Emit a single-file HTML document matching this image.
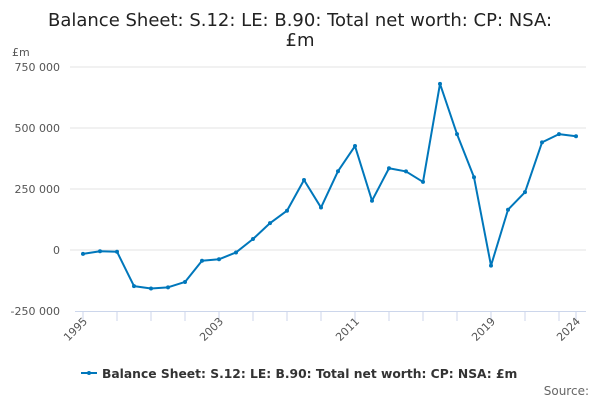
<!DOCTYPE html>
<html><head><meta charset="utf-8"><style>
body{margin:0;background:#fff;width:600px;height:400px;overflow:hidden;font-family:"DejaVu Sans","Liberation Sans",sans-serif}
</style></head><body>
<svg width="600" height="400" id="chart" style="font-family:'DejaVu Sans','Liberation Sans',sans-serif">
<text x="300" y="26" text-anchor="middle" font-size="18" fill="#222">Balance Sheet: S.12: LE: B.90: Total net worth: CP: NSA:</text>
<text x="300" y="46" text-anchor="middle" font-size="18" fill="#222">£m</text>
<text x="12" y="56" font-size="11" fill="#555">£m</text>
<g id="grid"></g><g id="axes"></g><g id="series"></g>
<g>
<line x1="81" y1="373" x2="97" y2="373" stroke="#0077bb" stroke-width="2"/>
<circle cx="89" cy="373" r="2" fill="#0077bb"/>
<text x="102" y="378" font-size="12.3" font-weight="bold" fill="#333">Balance Sheet: S.12: LE: B.90: Total net worth: CP: NSA: £m</text>
</g>
<text x="589" y="395" text-anchor="end" font-size="12" fill="#666">Source:</text>
</svg>
<script>
const years=[1995,1996,1997,1998,1999,2000,2001,2002,2003,2004,2005,2006,2007,2008,2009,2010,2011,2012,2013,2014,2015,2016,2017,2018,2019,2020,2021,2022,2023,2024];
const values=[-16000,-5000,-7000,-148000,-158000,-153000,-131000,-44000,-38000,-10000,45000,110000,161000,287000,174000,323000,426000,202000,335000,322000,279000,681000,475000,298000,-64000,165000,237000,441000,475000,466000];
const yTicks=[-250000,0,250000,500000,750000];
const yTickLabels=["-250 000","0","250 000","500 000","750 000"];
const xLabels=[1995,2003,2011,2019,2024];
const NS="http://www.w3.org/2000/svg";
function X(y){return 83+(y-1995)*(576-83)/29;}
function Y(v){return 250-v*(61/250000);}
function mk(t,a,p){const e=document.createElementNS(NS,t);for(const k in a)e.setAttribute(k,a[k]);p.appendChild(e);return e;}
const grid=document.getElementById('grid'),axes=document.getElementById('axes'),ser=document.getElementById('series');
yTicks.forEach((t,i)=>{
 if(t!==-250000){const l=mk('line',{x1:70,x2:586,y1:Y(t),y2:Y(t),stroke:'#e3e3e3','stroke-width':1},grid);
 
 }
 const tx=mk('text',{x:60,y:Y(t)+4,'text-anchor':'end','font-size':11,fill:'#555'},axes);tx.textContent=yTickLabels[i];
 
 
});
const ax=mk('line',{x1:75,x2:586,y1:311.5,y2:311.5,stroke:'#ccd6eb','stroke-width':1},axes);


const tks=[];for(let y=1995;y<=2023;y+=2)tks.push(y);tks.push(2024);
tks.forEach(y=>{const t=mk('line',{x1:X(y),x2:X(y),y1:311,y2:321,stroke:'#ccd6eb'},axes);
 
 });
xLabels.forEach(y=>{const x=X(y)+5,yy=322;const t=mk('text',{x:x,y:yy,'text-anchor':'end','font-size':11,fill:'#555',transform:`rotate(-45 ${x} ${yy})`},axes);t.textContent=y;
 
 });
const pts=years.map((y,i)=>X(y)+','+Y(values[i])).join(' ');
const pl=mk('polyline',{points:pts,fill:'none',stroke:'#0077bb','stroke-width':2,'stroke-linejoin':'round'},ser);


years.forEach((y,i)=>{const c=mk('circle',{cx:X(y),cy:Y(values[i]),r:2,fill:'#0077bb'},ser);
 
 });
</script>
</body></html>
